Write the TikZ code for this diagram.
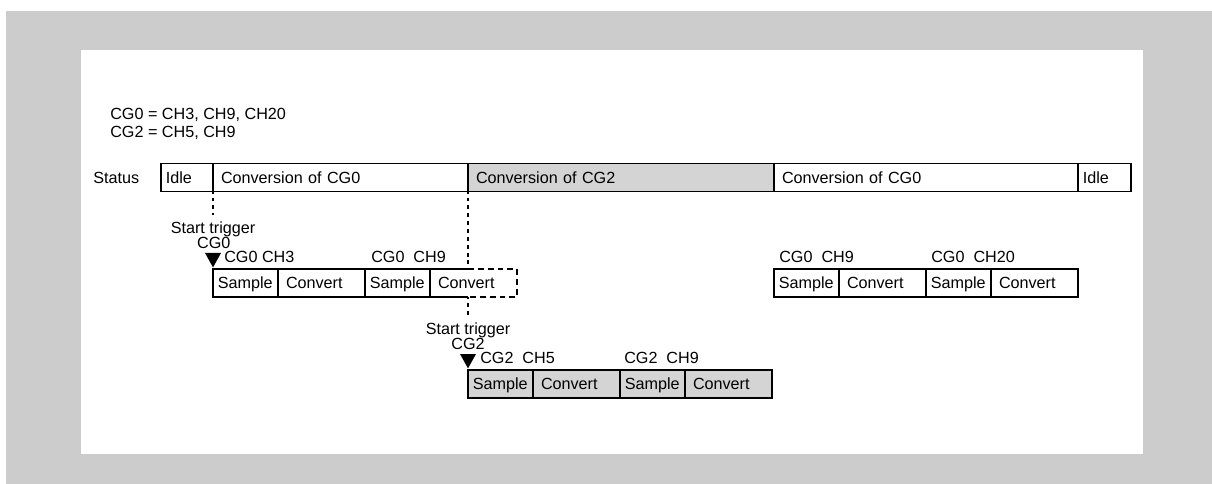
\documentclass[tikz,border=0pt]{standalone}
\usepackage{fontspec}
\setmainfont{Liberation Sans}
\usetikzlibrary{positioning,calc}
\definecolor{PageGray}{RGB}{204,204,204}
\definecolor{BusyGray}{RGB}{212,212,212}

\begin{document}
\begin{tikzpicture}[
  font=\fontsize{11.5}{13}\selectfont,
  txt/.style={inner sep=0pt,text height=9.6pt,text depth=1.4pt},
  seg/.style={txt,draw,line width=0.9pt,minimum height=0.7cm,outer sep=0pt,
              inner xsep=0.2cm,anchor=west,align=left,text width=#1},
  idleseg/.style={seg=#1,inner xsep=0.12cm},
  cell/.style={txt,draw,line width=0.9pt,minimum height=0.7cm,outer sep=0pt,
               anchor=west,align=left},
  smp/.style={cell,inner xsep=0.12cm,text width=1.385cm},
  cnv/.style={cell,inner xsep=0.2cm,text width=1.775cm},
  trig/.style={line width=1.5pt,dash pattern=on 2.8pt off 2.8pt,dash phase=1.4pt},
  tail/.style={line width=0.8pt,dash pattern=on 4.2pt off 2.8pt},
]
\fill[white] (0,0) rectangle (30.3,-12.1);
\fill[PageGray] (0.15,-0.275) rectangle (30.3,-12.1);
\fill[white] (2.025,-1.25) rectangle (28.575,-11.35);
\useasboundingbox (0,0) rectangle (30.3,-12.1);

\node[txt,anchor=west] (cgzero) at (2.75,-2.84) {CG0 = CH3, CH9, CH20};
\node[txt,anchor=west] (cgtwo) at (2.75,-3.3) {CG2 = CH5, CH9};
\node[txt,anchor=west] (status) at (2.325,-4.44) {Status};

% status bar
\node[idleseg=1.06cm] (idleA) at (4.025,-4.44) {Idle};
\node[seg=5.975cm,right=0pt of idleA] (runA) {Conversion of CG0};
\node[seg=7.25cm,fill=BusyGray,right=0pt of runA] (runB) {Conversion of CG2};
\node[seg=7.2cm,right=0pt of runB] (runC) {Conversion of CG0};
\node[idleseg=1.085cm,right=0pt of runC] (idleB) {Idle};

% CG0, first part
\node[smp] (smpA) at (5.325,-7.075) {Sample};
\node[cnv,right=0pt of smpA] (cnvA) {Convert};
\node[smp,right=0pt of cnvA] (smpB) {Sample};
\node[cnv,draw=none,right=0pt of smpB] (cnvB) {Convert};
\draw[line width=0.9pt] (cnvB.north west) -- (cnvB.north west -| runB.south west);
\draw[line width=0.9pt] (cnvB.south west) -- (cnvB.south west -| runB.south west);
\draw[tail] (cnvB.north west -| runB.south west) -- (cnvB.north east)
  -- (cnvB.south east) -- (cnvB.south west -| runB.south west);

% CG0, second part
\node[smp] (smpC) at (19.35,-7.075) {Sample};
\node[cnv,right=0pt of smpC] (cnvC) {Convert};
\node[smp,right=0pt of cnvC] (smpD) {Sample};
\node[cnv,right=0pt of smpD] (cnvD) {Convert};

% CG2
\node[smp,fill=BusyGray] (smpE) at (11.7,-9.6) {Sample};
\node[cnv,fill=BusyGray,right=0pt of smpE] (cnvE) {Convert};
\node[smp,fill=BusyGray,right=0pt of cnvE] (smpF) {Sample};
\node[cnv,fill=BusyGray,right=0pt of smpF] (cnvF) {Convert};

% triggers
\coordinate (trigA) at ([yshift=-0.575cm]runA.south west);
\draw[trig] (runA.south west) -- (trigA);
\draw[trig] (runB.south west) -- (runB.south west |- cnvB.north);
\coordinate (trigB) at ([yshift=-0.5cm]runB.south west |- cnvB.south);
\draw[trig] (runB.south west |- cnvB.south) -- (trigB);

\node[txt] (startA) at ($(smpA.north west)+(0,1.025)$) {Start trigger};
\node[txt] (grpA) at ($(smpA.north west)+(0.02,0.65)$) {CG0};
\fill (smpA.north west) ++(0,0.04) -- ++(-0.2,0.36) -- ++(0.4,0) -- cycle;
\node[txt,anchor=west] (chA) at ($(smpA.north west)+(0.275,0.3)$) {CG0 CH3};
\node[txt,anchor=west] (chB) at ($(smpB.north west)+(0.15,0.3)$) {CG0\ \ CH9};
\node[txt,anchor=west] (chC) at ($(smpC.north west)+(0.125,0.3)$) {CG0\ \ CH9};
\node[txt,anchor=west] (chD) at ($(smpD.north west)+(0.125,0.3)$) {CG0\ \ CH20};

\node[txt] (startB) at ($(smpE.north west)+(0,1.025)$) {Start trigger};
\node[txt] (grpB) at ($(smpE.north west)+(0,0.65)$) {CG2};
\fill (smpE.north west) ++(0,0.04) -- ++(-0.2,0.36) -- ++(0.4,0) -- cycle;
\node[txt,anchor=west] (chE) at ($(smpE.north west)+(0.3,0.3)$) {CG2\ \ CH5};
\node[txt,anchor=west] (chF) at ($(smpF.north west)+(0.1,0.3)$) {CG2\ \ CH9};
\end{tikzpicture}
\end{document}
